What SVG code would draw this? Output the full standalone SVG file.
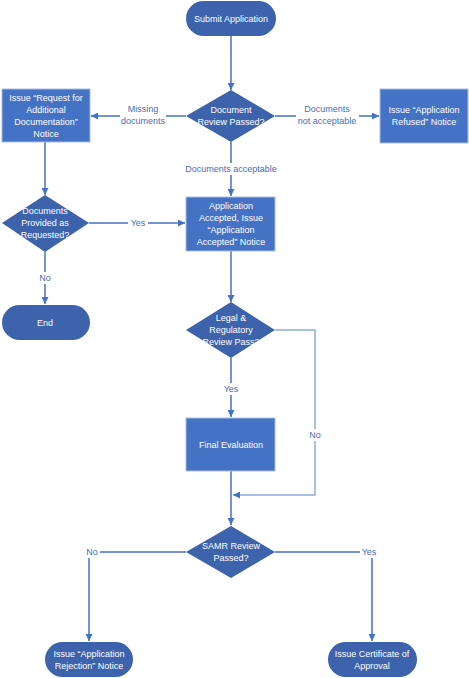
<svg xmlns="http://www.w3.org/2000/svg" width="469" height="678" viewBox="0 0 469 678">
<style>
.term{fill:#3D63AC;}
.dec{fill:#3D63AC;}
.proc{fill:#4472C4;stroke:#A9BDE3;stroke-width:1;}
.nt{font-family:"Liberation Sans",Arial,sans-serif;font-size:9px;fill:#FFFFFF;text-anchor:middle;}
.lb{font-family:"Liberation Sans",Arial,sans-serif;font-size:9px;fill:#4A6DB5;text-anchor:middle;}
.c{fill:none;stroke:#4472C4;stroke-width:1.5;}
.cl{fill:none;stroke:#8FAADC;stroke-width:1.5;}
.bg{fill:#FFFFFF;}
</style>
<defs>
<marker id="ah" viewBox="0 0 10 10" refX="10" refY="5" markerWidth="7" markerHeight="7" markerUnits="userSpaceOnUse" orient="auto">
<path d="M0,0 L10,5 L0,10 z" fill="#4472C4"/>
</marker>
</defs>
<rect width="469" height="678" fill="#FFFFFF"/>
<g id="connectors">
<path class="c" d="M231,36 V90" marker-end="url(#ah)"/>
<path class="c" d="M186,116 H91" marker-end="url(#ah)"/>
<path class="c" d="M275,116 H379" marker-end="url(#ah)"/>
<path class="c" d="M231,142 V196" marker-end="url(#ah)"/>
<path class="c" d="M45,142 V195" marker-end="url(#ah)"/>
<path class="c" d="M89,223 H185" marker-end="url(#ah)"/>
<path class="c" d="M45,252 V304" marker-end="url(#ah)"/>
<path class="c" d="M231,251 V302" marker-end="url(#ah)"/>
<path class="cl" d="M275,330 H315 V495 H233" marker-end="url(#ah)"/>
<path class="c" d="M231,358 V417" marker-end="url(#ah)"/>
<path class="c" d="M231,471 V525" marker-end="url(#ah)"/>
<path class="c" d="M186,552 H89 V641" marker-end="url(#ah)"/>
<path class="c" d="M275,552 H372 V641" marker-end="url(#ah)"/>
<rect class="bg" x="120" y="102" width="46" height="24"/>
<text class="lb" x="143" y="112">Missing</text>
<text class="lb" x="143" y="124">documents</text>
<rect class="bg" x="296" y="102" width="63" height="24"/>
<text class="lb" x="327" y="112">Documents</text>
<text class="lb" x="327" y="124">not acceptable</text>
<rect class="bg" x="182" y="163" width="98" height="12"/>
<text class="lb" x="231" y="172">Documents acceptable</text>
<rect class="bg" x="128" y="217" width="20" height="12"/>
<text class="lb" x="138" y="226">Yes</text>
<rect class="bg" x="36" y="272" width="18" height="12"/>
<text class="lb" x="45" y="281">No</text>
<rect class="bg" x="221" y="383" width="20" height="12"/>
<text class="lb" x="231" y="392">Yes</text>
<rect class="bg" x="306" y="429" width="18" height="12"/>
<text class="lb" x="315" y="438">No</text>
<rect class="bg" x="85" y="546" width="15" height="12"/>
<text class="lb" x="92" y="555">No</text>
<rect class="bg" x="360" y="546" width="18" height="12"/>
<text class="lb" x="369" y="555">Yes</text>
</g>
<g id="submit">
<rect class="term" x="186" y="1" width="90" height="35" rx="17.5"/>
<text class="nt" x="231" y="21.5">Submit Application</text>
</g>
<g id="docreview">
<path class="dec" d="M231,90 L275,116 L231,142 L186,116 z"/>
<text class="nt" x="231" y="113">Document</text>
<text class="nt" x="231" y="125">Review Passed?</text>
</g>
<g id="request">
<rect class="proc" x="2" y="89" width="88" height="53"/>
<text class="nt" x="46" y="101">Issue “Request for</text>
<text class="nt" x="46" y="113">Additional</text>
<text class="nt" x="46" y="125">Documentation”</text>
<text class="nt" x="46" y="137">Notice</text>
</g>
<g id="refused">
<rect class="proc" x="380" y="89" width="88" height="54"/>
<text class="nt" x="424" y="113">Issue “Application</text>
<text class="nt" x="424" y="125">Refused” Notice</text>
</g>
<g id="provided">
<path class="dec" d="M45,195 L89,223 L45,252 L2,223 z"/>
<text class="nt" x="45" y="214">Documents</text>
<text class="nt" x="45" y="226">Provided as</text>
<text class="nt" x="45" y="238">Requested?</text>
</g>
<g id="accepted">
<rect class="proc" x="186" y="197" width="89" height="54"/>
<text class="nt" x="231" y="209">Application</text>
<text class="nt" x="231" y="221">Accepted, Issue</text>
<text class="nt" x="231" y="233">“Application</text>
<text class="nt" x="231" y="245">Accepted” Notice</text>
</g>
<g id="end">
<rect class="term" x="2" y="305" width="88" height="35" rx="17.5"/>
<text class="nt" x="45" y="325.5">End</text>
</g>
<g id="legal">
<path class="dec" d="M231,302 L275,330 L231,358 L186,330 z"/>
<text class="nt" x="231" y="321">Legal &amp;</text>
<text class="nt" x="231" y="333">Regulatory</text>
<text class="nt" x="231" y="345">Review Pass?</text>
</g>
<g id="final">
<rect class="proc" x="186" y="418" width="89" height="53"/>
<text class="nt" x="231" y="448">Final Evaluation</text>
</g>
<g id="samr">
<path class="dec" d="M231,526 L275,552 L231,578 L186,552 z"/>
<text class="nt" x="231" y="549">SAMR Review</text>
<text class="nt" x="231" y="561">Passed?</text>
</g>
<g id="rejection">
<rect class="term" x="45" y="642" width="88" height="35" rx="17.5"/>
<text class="nt" x="89" y="657">Issue “Application</text>
<text class="nt" x="89" y="669">Rejection” Notice</text>
</g>
<g id="certificate">
<rect class="term" x="328" y="642" width="89" height="35" rx="17.5"/>
<text class="nt" x="372" y="657">Issue Certificate of</text>
<text class="nt" x="372" y="669">Approval</text>
</g>
</svg>
